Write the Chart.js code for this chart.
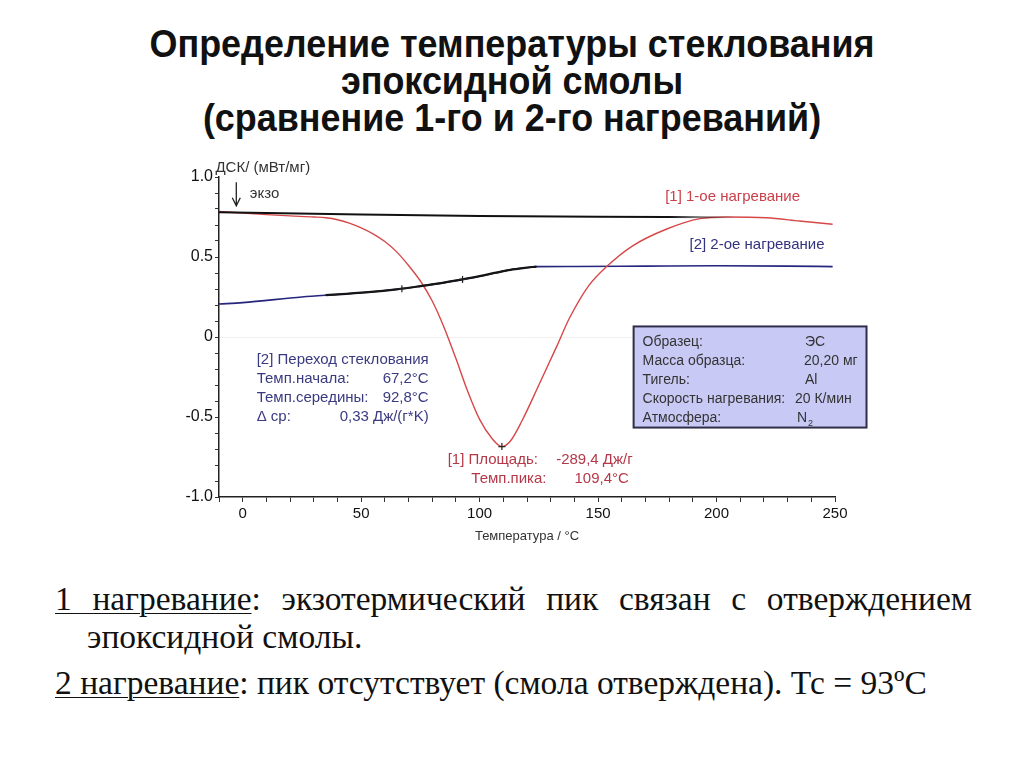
<!DOCTYPE html>
<html>
<head>
<meta charset="utf-8">
<script src="https://cdn.jsdelivr.net/npm/chart.js@4.4.1/dist/chart.umd.min.js"></script>
<style>
    body { margin: 0; width: 1024px; height: 768px; background: #fff; position: relative; overflow: hidden; }
    #title { position: absolute; top: 26px; left: 0; width: 1024px; text-align: center;
        font-family: "Liberation Sans", Arial, sans-serif;
        font-weight: bold; font-size: 38px; line-height: 37px; color: #111; transform-origin: 50% 50%; }
    #title span { display: inline-block; white-space: nowrap; }
    #chartBox { position: absolute; left: 0; top: 150px; width: 1024px; height: 410px; }
    #notes { position: absolute; left: 55px; top: 580px; width: 917px;
        font-family: "Liberation Serif", "Times New Roman", serif; font-size: 33.5px; color: #111; }
    #notes p { margin: 0; padding-left: 32px; text-indent: -32px; text-align: justify; line-height: 38px; }
    #notes p + p { margin-top: 8px; }
    u { text-decoration-thickness: 1px; text-underline-offset: 3px; }
</style>
</head>
<body>
<div id="title"><span id="t1">Определение температуры стеклования</span><br><span>эпоксидной смолы</span><br><span>(сравнение 1-го и 2-го нагреваний)</span></div>
<div id="chartBox"><canvas id="chartDsc" width="1024" height="410"></canvas></div>
<div id="notes">
    <p><u>1 нагревание</u>: экзотермический пик связан с отверждением эпоксидной смолы.</p>
    <p><u>2 нагревание</u>: пик отсутствует (смола отверждена). Тс = 93ºС</p>
</div>

<script>
// 1-ое нагревание (красная кривая), °C -> мВт/мг
const temps1 = [-10, 0, 10, 20, 30, 35, 40, 45, 50, 55, 60, 65, 70, 75, 80, 85, 90, 95, 100, 105, 109.4,
    113, 118, 125, 132.5, 138, 146, 153.6, 164.6, 179, 193, 204, 221, 235, 249];
const dsc1 = [0.785, 0.775, 0.765, 0.757, 0.75, 0.745, 0.733, 0.712, 0.682, 0.645, 0.597, 0.532, 0.447, 0.35,
    0.225, 0.06, -0.135, -0.34, -0.515, -0.63, -0.685, -0.65, -0.52, -0.3, -0.06, 0.12, 0.32, 0.44, 0.57,
    0.675, 0.74, 0.75, 0.745, 0.725, 0.705];

// 2-ое нагревание (синяя кривая)
const temps2 = [-10, 0, 25, 40, 53, 65, 75, 85, 92.8, 100, 107, 113, 119, 124, 140, 170, 200, 230, 249];
const dsc2 = [0.206, 0.215, 0.25, 0.266, 0.28, 0.298, 0.318, 0.34, 0.36, 0.38, 0.402, 0.42, 0.432, 0.44,
    0.441, 0.443, 0.445, 0.443, 0.44];

// участок оценки стеклования (чёрный поверх синей)
const glassTemps = [35, 40, 53, 65, 75, 85, 92.8, 100, 107, 113, 119, 124];
const glassDsc = [0.262, 0.266, 0.28, 0.298, 0.318, 0.34, 0.36, 0.38, 0.402, 0.42, 0.432, 0.44];

// базовая линия интегрирования пика
const baseTemps = [-10, 50, 100, 150, 208];
const baseDsc = [0.78, 0.765, 0.757, 0.752, 0.748];

// отметки (крестики)
const markTemps = [67.2, 92.8, 109.4];
const markDsc = [0.302, 0.36, -0.685];

const xTickMin = -10, xTickMax = 250, yTickMin = -1, yTickMax = 1;

const glassLines = [
    ["[2] Переход стеклования", ""],
    ["Темп.начала:", "67,2°C"],
    ["Темп.середины:", "92,8°C"],
    ["Δ cp:", "0,33 Дж/(г*K)"],
];
const peakLines = [
    ["[1] Площадь:", "-289,4 Дж/г"],
    ["Темп.пика:", "109,4°C"],
];
const infoRows = [
    ["Образец:", "ЭС"],
    ["Масса образца:", "20,20 мг"],
    ["Тигель:", "Al"],
    ["Скорость нагревания:", "20 К/мин"],
    ["Атмосфера:", "N"],
];

// заголовок — узкий шрифт: подгоняем ширину первой строки
const t1 = document.getElementById('t1');
const squeeze = 725 / t1.getBoundingClientRect().width;
document.getElementById('title').style.transform = 'scaleX(' + squeeze + ')';

const pts = (xs, ys) => xs.map((x, i) => ({ x: x, y: ys[i] }));

const RED = '#d64848';
const NAVY = '#26267e';
const SANS = '"Liberation Sans", Arial, sans-serif';

Chart.defaults.font.family = SANS;

const textPlugin = {
    id: 'dscTexts',
    afterDraw(chart) {
        const c = chart.ctx;
        const X = v => chart.scales.x.getPixelForValue(v);
        const Y = v => chart.scales.y.getPixelForValue(v);
        c.save();
        c.textBaseline = 'middle';

        c.font = '15px ' + SANS;
        c.fillStyle = '#333';
        c.textAlign = 'left';
        c.fillText('ДСК/ (мВт/мг)', X(-11.5), Y(1.06));
        c.fillText('экзо', X(3), Y(0.892));

        // стрелка экзо
        c.strokeStyle = '#222';
        c.lineWidth = 1.3;
        c.beginPath();
        c.moveTo(X(-2.7), Y(0.967));
        c.lineTo(X(-2.7), Y(0.82));
        c.moveTo(X(-2.7) - 4, Y(0.82) - 8);
        c.lineTo(X(-2.7), Y(0.82));
        c.lineTo(X(-2.7) + 4, Y(0.82) - 8);
        c.stroke();

        // подписи кривых
        c.font = '15px ' + SANS;
        c.fillStyle = '#c9404a';
        c.fillText('[1] 1-ое нагревание', X(178.3), Y(0.873));
        c.fillStyle = '#33337f';
        c.fillText('[2] 2-ое нагревание', X(188.6), Y(0.579));

        // переход стеклования
        const gRows = [-0.145, -0.262, -0.381, -0.5];
        c.fillStyle = '#3a3a80';
        glassLines.forEach((row, i) => {
            c.textAlign = 'left';
            c.fillText(row[0], X(5.9), Y(gRows[i]));
            c.textAlign = 'right';
            c.fillText(row[1], X(78.5), Y(gRows[i]));
        });

        // площадь пика
        c.fillStyle = '#b53848';
        c.textAlign = 'left';
        c.fillText(peakLines[0][0], X(86.5), Y(-0.767));
        c.fillText(peakLines[1][0], X(96.5), Y(-0.888));
        c.textAlign = 'right';
        c.fillText(peakLines[0][1], X(164.6), Y(-0.767));
        c.fillText(peakLines[1][1], X(163), Y(-0.888));

        // таблица условий
        const bx = X(165), by = Y(0.066), bw = X(263.3) - bx, bh = Y(-0.566) - by;
        c.fillStyle = '#c9c9f6';
        c.fillRect(bx, by, bw, bh);
        c.strokeStyle = '#2e2e48';
        c.lineWidth = 2;
        c.strokeRect(bx, by, bw, bh);
        c.font = '14px ' + SANS;
        c.fillStyle = '#333';
        c.textAlign = 'left';
        const rowY = [341.7, 360.7, 380, 399, 418.3];
        const valX = [805, 804, 805, 795, 797];
        infoRows.forEach((row, i) => {
            const yy = rowY[i] - 150;
            c.fillText(row[0], bx + 9, yy);
            c.fillText(row[1], valX[i], yy);
        });
        c.font = '9px ' + SANS;
        c.fillText('2', valX[4] + 11, rowY[4] - 150 + 5);
        c.restore();
    }
};

const yLabel = v => {
    const r = Math.round(v * 10);
    if (r % 5 !== 0) return '';
    if (r === 0) return '0';
    return (r / 10).toFixed(1);
};

new Chart(document.getElementById('chartDsc'), {
    type: 'line',
    data: {
        datasets: [
            {
                label: 'baseline', data: pts(baseTemps, baseDsc), borderWidth: 2, pointRadius: 0,
                borderColor: ctx => {
                    const ch = ctx.chart;
                    if (!ch.chartArea) return '#111';
                    const xs = ch.scales.x;
                    const g = ch.ctx.createLinearGradient(xs.getPixelForValue(180), 0, xs.getPixelForValue(208), 0);
                    g.addColorStop(0, 'rgba(17,17,17,1)');
                    g.addColorStop(1, 'rgba(17,17,17,0)');
                    return g;
                },
            },
            { label: 'marks', data: pts(markTemps, markDsc), showLine: false, pointStyle: 'cross',
              pointRadius: 3.5, borderColor: '#222', borderWidth: 1.2 },
            { label: 'glass', data: pts(glassTemps, glassDsc), borderColor: '#151515', borderWidth: 2.2,
              pointRadius: 0, cubicInterpolationMode: 'monotone' },
            { label: '[1] 1-ое нагревание', data: pts(temps1, dsc1), borderColor: RED, borderWidth: 1.4,
              pointRadius: 0, cubicInterpolationMode: 'monotone' },
            { label: '[2] 2-ое нагревание', data: pts(temps2, dsc2), borderColor: NAVY, borderWidth: 1.6,
              pointRadius: 0, cubicInterpolationMode: 'monotone' },
        ],
    },
    options: {
        responsive: false,
        animation: false,
        layout: { padding: { left: 159, right: 189, top: 27, bottom: 8 } },
        plugins: { legend: { display: false }, tooltip: { enabled: false } },
        scales: {
            x: {
                type: 'linear', min: xTickMin, max: xTickMax,
                border: { color: '#222', width: 1.5 },
                grid: { drawOnChartArea: false, tickLength: 5, tickColor: '#333' },
                ticks: { stepSize: 10, autoSkip: false, maxRotation: 0, padding: 3, color: '#111',
                         font: { size: 15 }, callback: v => (v % 50 === 0 ? String(v) : '') },
                title: { display: true, text: 'Температура / °C', color: '#333', font: { size: 13 },
                         padding: { top: 0, bottom: 8 } },
                afterFit(s) { s.height = 55; },
            },
            y: {
                type: 'linear', min: yTickMin, max: yTickMax,
                border: { color: '#222', width: 1.5 },
                grid: { tickLength: 4, tickColor: '#333',
                        color: ctx => (ctx.tick && Math.abs(ctx.tick.value) < 1e-9 ? '#f0f0f0' : 'rgba(0,0,0,0)') },
                ticks: { stepSize: 0.1, autoSkip: false, padding: 2, color: '#111', font: { size: 16 },
                         callback: yLabel },
                afterFit(s) { s.width = 60; },
            },
        },
    },
    plugins: [textPlugin],
});
</script>
</body>
</html>
